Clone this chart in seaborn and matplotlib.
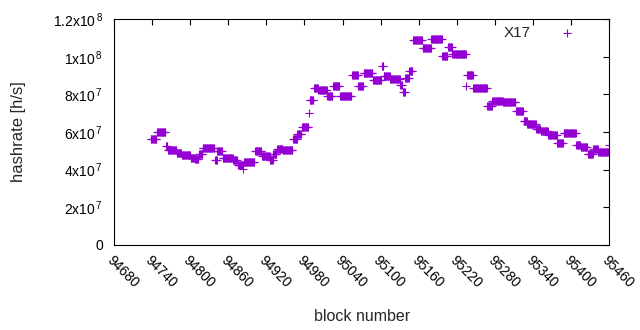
import matplotlib
matplotlib.use("Agg")
import matplotlib.pyplot as plt
import matplotlib.transforms as mtransforms
import numpy as np
import pandas as pd
import seaborn as sns

first_block = 94738
run_lengths = [10, 14, 3, 14, 8, 14, 7, 6, 6, 19, 4, 8, 17, 7, 9, 1, 17, 11, 13, 5,
               6, 9, 16, 7, 7, 11, 1, 7, 7, 14, 9, 11, 19, 10, 8, 15, 14, 3, 10, 16,
               4, 4, 6, 6, 15, 14, 17, 9, 7, 22, 1, 10, 22, 8, 17, 20, 12, 6, 14, 7,
               12, 14, 10, 20, 7, 11, 9, 8, 16, 1]
run_values = [56.5, 60.0, 52.7, 50.3, 48.7, 47.9, 46.1, 45.5, 48.2, 51.6, 45.0, 50.0,
              46.3, 45.3, 42.4, 40.3, 44.2, 49.8, 47.1, 45.3, 48.4, 50.8, 50.3, 56.1,
              58.7, 62.7, 70.3, 76.9, 83.5, 82.5, 79.0, 84.6, 79.3, 90.1, 84.3, 91.2,
              87.8, 95.1, 89.9, 88.0, 85.1, 81.4, 88.5, 92.2, 108.9, 104.4, 109.7,
              100.4, 105.4, 101.7, 84.6, 90.1, 83.3, 74.0, 76.7, 75.9, 71.1, 65.9,
              64.5, 61.6, 60.3, 58.2, 54.2, 59.5, 53.2, 52.1, 48.2, 50.8, 49.5, 52.9]

x_ticks = list(range(94680, 95461, 60))
y_ticks = [0, 2e7, 4e7, 6e7, 8e7, 1e8, 1.2e8]
y_tick_labels = ["0", "2x10$^{\\,7}$", "4x10$^{\\,7}$", "6x10$^{\\,7}$", "8x10$^{\\,7}$",
                 "1x10$^{\\,8}$", "1.2x10$^{\\,8}$"]

hashrate = np.repeat(np.array(run_values) * 1e6, run_lengths)
blocks = first_block + np.arange(len(hashrate))
df = pd.DataFrame({"block": blocks, "hashrate": hashrate})

sns.set_style("white")
plt.rcParams["font.family"] = ["Liberation Sans", "DejaVu Sans"]
plt.rcParams["mathtext.fontset"] = "custom"
plt.rcParams["mathtext.rm"] = "Liberation Sans"
plt.rcParams["mathtext.it"] = "Liberation Sans"

fig = plt.figure(figsize=(6.4, 3.3), dpi=100)
ax = fig.add_axes([0.178, 0.258, 0.774, 0.684])

sns.scatterplot(data=df, x="block", y="hashrate", marker="+", color="#9400D3",
                s=30, linewidth=0.8, label="X17", ax=ax)

ax.set_xlim(94680, 95460)
ax.set_ylim(0, 1.2e8)
ax.set_xticks(x_ticks)
ax.set_xticklabels([str(t) for t in x_ticks], rotation=-45, ha="left", va="top",
                   rotation_mode="anchor")
# nudge the slanted labels a little to the right, like gnuplot places them
shift = mtransforms.ScaledTranslation(4 / 100, 0, fig.dpi_scale_trans)
for lab in ax.get_xticklabels():
    lab.set_transform(lab.get_transform() + shift)
ax.set_yticks(y_ticks)
ax.set_yticklabels(y_tick_labels)
ax.tick_params(direction="in", length=4, width=0.8, top=True, right=True,
               labelsize=10, colors="black", pad=6)
ax.tick_params(axis="y", pad=8)
for sp in ax.spines.values():
    sp.set_color("black")
    sp.set_linewidth(0.8)

ax.set_xlabel("block number", fontsize=11.5, labelpad=13)
ax.set_ylabel("hashrate [h/s]", fontsize=12, labelpad=19)

ax.legend(loc="upper right", bbox_to_anchor=(0.965, 1.03), frameon=False,
          markerfirst=False, fontsize=11, handletextpad=1.6, handlelength=1.5)

fig.savefig("out.png", dpi=100)
